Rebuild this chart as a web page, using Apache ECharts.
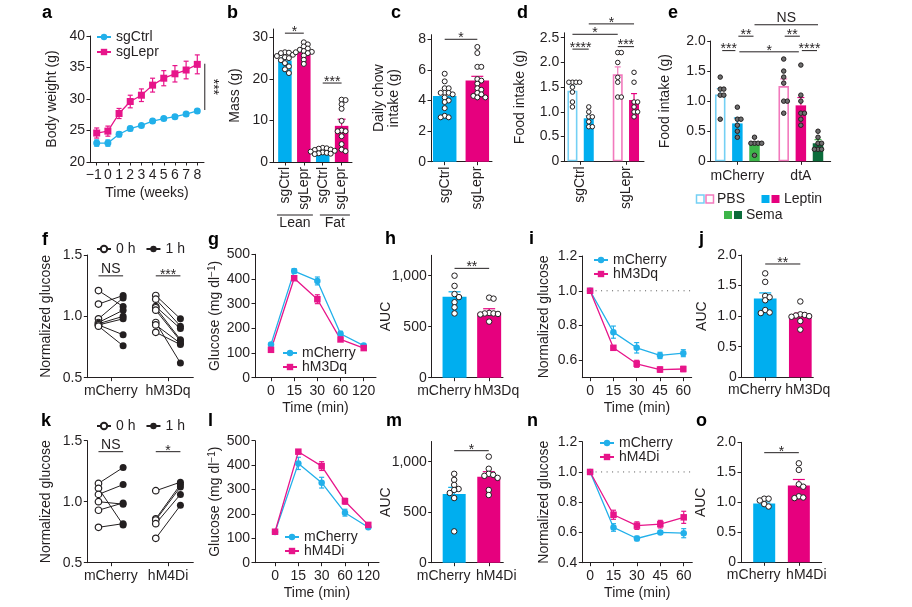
<!DOCTYPE html>
<html><head><meta charset="utf-8">
<script src="https://cdn.jsdelivr.net/npm/echarts@6/dist/echarts.min.js"></script>
<style>html,body{margin:0;padding:0;background:#fff}#c{width:912px;height:607px}</style>
</head><body><div id="c"></div>
<script>
// ================= DATA =================
// a
const weeks = [-1,0,1,2,3,4,5,6,7,8];
const aCtrl = [23.0,23.0,24.4,25.3,25.8,26.5,26.9,27.2,27.6,28.1];
const aCtrlSem = [0.5,0.5,0.4,0.35,0.25,0.3,0.3,0.3,0.3,0.3];
const aLepr = [24.6,24.9,27.7,29.6,30.6,32.2,33.3,34.0,34.6,35.5];
const aLeprSem = [0.8,0.8,0.8,1.0,1.0,1.1,1.2,1.3,1.4,1.5];
const aYTicks = [20,25,30,35,40];
// b
const bCats = ['sgCtrl','sgLepr','sgCtrl','sgLepr'];
const bGroups = ['Lean','Fat'];
const bMean = [24.4,26.8,2.6,8.7];
const bSem = [0.6,0.5,0.25,1.6];
const bLeanCtrl = [26.4,26.3,26.2,25.8,25.5,25.2,25.0,24.5,23.8,23.0,22.3,21.4];
const bLeanLepr = [28.8,28.3,27.8,27.3,27.0,26.7,26.5,26.4,26.2,25.6,24.6,23.6];
const bFatCtrl = [3.4,3.3,3.2,3.0,2.9,2.7,2.5,2.3,2.2,2.1,2.0,1.9];
const bFatLepr = [15.0,14.9,13.9,12.8,9.9,7.6,7.4,7.4,6.2,4.3,3.0,2.6];
const bYTicks = [0,10,20,30];
// c
const cCats = ['sgCtrl','sgLepr'];
const cMean = [4.3,5.3];
const cSem = [0.22,0.28];
const cCtrl = [5.75,5.25,4.8,4.8,4.5,4.5,4.5,4.4,4.2,4.0,3.9,3.5,3.0,2.9,2.9];
const cLepr = [7.5,7.1,6.2,6.2,5.4,5.3,5.1,4.8,4.7,4.5,4.4,4.3,4.2,4.2];
const cYTicks = [0,2,4,6,8];
// d
const dCats = ['sgCtrl','sgLepr'];
const dMeanPBS = [1.43,1.76];
const dSemPBS = [0.09,0.15];
const dMeanLep = [0.87,1.24];
const dSemLep = [0.05,0.13];
const dCtrlPBS = [1.6,1.6,1.6,1.6,1.5,1.4,1.2,1.1];
const dCtrlLep = [1.1,1.0,0.9,0.9,0.8,0.7,0.7];
const dLeprPBS = [2.2,2.2,2.0,1.7,1.6,1.3,1.3];
const dLeprLep = [1.8,1.6,1.2,1.2,1.1,1.0,1.0,0.9];
const dYTicks = [0,0.5,1.0,1.5,2.0,2.5];
// e
const eGroups = ['mCherry','dtA'];
const eMeanPBS = [1.11,1.25];
const eSemPBS = [0.1,0.12];
const eMeanLep = [0.63,0.93];
const eSemLep = [0.09,0.13];
const eMeanSema = [0.30,0.30];
const eSemSema = [0.02,0.06];
const ePBSm = [1.4,1.2,1.2,1.1,1.1,0.7];
const eLepm = [0.9,0.7,0.7,0.6,0.5,0.4];
const eSemam = [0.4,0.3,0.3,0.3,0.3,0.1];
const ePBSd = [1.7,1.5,1.4,1.3,1.0,1.0,0.8];
const eLepd = [1.6,1.1,1.0,0.8,0.8,0.7,0.6];
const eSemad = [0.5,0.4,0.3,0.3,0.2,0.2,0.2];
const eYTicks = [0,0.5,1.0,1.5,2.0];
// f
const fCats = ['mCherry','hM3Dq'];
const fMch0 = [1.21,1.10,0.98,0.95,0.94,0.93,0.93,0.92];
const fMch1 = [1.08,1.17,1.15,1.05,1.00,0.98,0.85,0.76];
const fHm0 = [1.17,1.14,1.08,1.07,1.05,0.95,0.93,0.87];
const fHm1 = [0.98,0.92,0.90,0.81,0.80,0.62,0.78,0.77];
const normTicks = [0.5,1.0,1.5];
// g
const gTimes = ['0','15','30','60','120'];
const gMch = [135,432,392,178,130];
const gMchSem = [5,10,16,10,5];
const gHm = [113,403,318,155,120];
const gHmSem = [8,6,18,6,4];
const gluTicks = [0,100,200,300,400,500];
// h
const hCats = ['mCherry','hM3Dq'];
const hMean = [794,631];
const hSem = [48,45];
const hMch = [1000,900,820,790,740,690,630];
const hHm = [785,775,635,630,630,625,620,550];
const aucTicks = [0,500,1000];
// i
const iTimes = [0,15,30,45,60];
const iMch = [1.0,0.762,0.672,0.628,0.641];
const iMchSem = [0,0.035,0.03,0.018,0.02];
const iHm = [1.0,0.672,0.58,0.547,0.55];
const iHmSem = [0,0.006,0.02,0.015,0.015];
const iYTicks = [0.6,0.8,1.0,1.2];
// j
const jCats = ['mCherry','hM3Dq'];
const jMean = [1.29,1.02];
const jSem = [0.09,0.03];
const jMch = [1.70,1.56,1.33,1.31,1.26,1.10,1.06,1.05];
const jHm = [1.24,1.03,1.02,1.01,1.00,0.99,0.92,0.78];
const auc2Ticks = [0,0.5,1.0,1.5,2.0];
// k
const kCats = ['mCherry','hM4Di'];
const kMch0 = [1.15,1.11,1.06,1.00,0.93,0.79];
const kMch1 = [1.28,0.81,1.14,0.98,0.99,0.82];
const kHm0 = [1.09,0.86,0.85,0.82,0.70];
const kHm1 = [1.16,1.14,1.12,1.06,0.97];
// l
const lTimes = ['0','15','30','60','120'];
const lMch = [126,407,328,205,145];
const lMchSem = [8,25,22,14,5];
const lHm = [127,455,396,252,155];
const lHmSem = [5,6,18,12,6];
// m
const mCats = ['mCherry','hM4Di'];
const mMean = [680,851];
const mSem = [66,50];
const mMch = [880,820,770,730,720,690,640,310];
const mHm = [1050,930,880,870,860,840,720,670];
// n
const nTimes = [0,15,30,45,60];
const nMch = [1.0,0.633,0.56,0.60,0.595];
const nMchSem = [0,0.025,0.015,0.008,0.03];
const nHm = [1.0,0.717,0.645,0.655,0.70];
const nHmSem = [0,0.03,0.025,0.025,0.04];
const nYTicks = [0.4,0.6,0.8,1.0,1.2];
// o
const oCats = ['mCherry','hM4Di'];
const oMean = [0.98,1.28];
const oSem = [0.025,0.10];
const oMch = [1.06,1.06,1.03,0.97,0.93];
const oHm = [1.65,1.54,1.30,1.26,1.10,1.08,1.07];

// ================= STYLE / HELPERS =================
const INK = '#231f20';
const FONT = '"Liberation Sans", Arial, Helvetica, sans-serif';
const FS = 14;
const BLUE = '#00aeef', MAG = '#e6007e', LBLUE = '#74d0f4', LPINK = '#f27abd';
const LINEB = '#22b0ea', LINEP = '#e7158a', GRN = '#3db549', DGRN = '#0b6b3a';

const grids = [], xAxes = [], yAxes = [], series = [], legends = [], graphics = [];
const fmt1 = v => v === 0 ? '0' : v.toFixed(1);
const fmtInt = v => String(Math.round(v));
const fmtK = v => v >= 1000 ? Math.floor(v/1000) + ',' + String(v % 1000).padStart(3,'0') : String(v);
const catFmt = arr => v => arr[Math.round(v)] || '';
// labels nudged apart (left label shifted left, right label shifted right) as in the figure
const pairFmt = arr => v => (Math.round(v) === 0 ? '{L|' : '{R|') + arr[Math.round(v)] + '}';
const pairRich = {L:{fontSize:FS, fontFamily:FONT, color:INK, padding:[0,21,0,0]},
                  R:{fontSize:FS, fontFamily:FONT, color:INK, padding:[0,0,0,15]}};

function xLabel(o, values, fmt) {
  return {show:true, customValues:values, formatter:fmt, color:INK, fontSize:FS, fontFamily:FONT,
    margin:o.xm == null ? 6 : o.xm, rotate:o.xr || 0, hideOverlap:false, showMinLabel:true, showMaxLabel:true, rich:o.xrich};
}
function addPanel(o) {
  const gi = grids.length;
  grids.push({left:o.l, top:o.t, width:o.w, height:o.h, containLabel:false, outerBoundsMode:'none'});
  const ls = {color:INK, width:1};
  const xi = xAxes.length;
  const splitLabels = !!o.xt2;
  xAxes.push({gridIndex:gi, type:'value', position:'bottom', min:o.x0, max:o.x1,
    axisLine:{show:true, onZero:false, lineStyle:ls},
    axisTick:{show:true, customValues:o.xt, length:3.5, lineStyle:ls},
    axisLabel:xLabel(o, splitLabels ? o.xt1 : o.xt, o.xf),
    splitLine:{show:false}, minorTick:{show:false},
    name:o.xn || '', nameLocation:'middle', nameGap:o.xg || 24, nameMoveOverlap:false,
    nameTextStyle:{color:INK, fontSize:FS, fontFamily:FONT}});
  if (splitLabels) {
    // second label layer on the same axis position, so that tightly packed labels are all drawn
    xAxes.push({gridIndex:gi, type:'value', position:'bottom', offset:0, min:o.x0, max:o.x1,
      axisLine:{show:false, onZero:false}, axisTick:{show:false},
      axisLabel:xLabel(o, o.xt2, o.xf), splitLine:{show:false}, minorTick:{show:false}});
  }
  yAxes.push({gridIndex:gi, type:'value', min:o.y0, max:o.y1,
    axisLine:{show:true, onZero:false, lineStyle:ls},
    axisTick:{show:true, customValues:o.yt, length:3.5, lineStyle:ls},
    axisLabel:{show:true, customValues:o.yt, formatter:o.yf, color:INK, fontSize:FS, fontFamily:FONT, margin:5,
      hideOverlap:false, showMinLabel:true, showMaxLabel:true},
    splitLine:{show:false}, minorTick:{show:false},
    name:o.yn || '', nameLocation:'middle', nameGap:o.yg || 30, nameMoveOverlap:false,
    nameTextStyle:{color:INK, fontSize:FS, fontFamily:FONT, lineHeight:15,
      rich:{sup:{fontSize:10, fontFamily:FONT, color:INK, padding:[0,0,7,0]}}}});
  return Object.assign({gi:gi, xi:xi, px:o.w/(o.x1-o.x0), py:o.h/(o.y1-o.y0)}, o);
}
function S(P, s) { s.xAxisIndex = P.xi; s.yAxisIndex = P.gi; s.animation = false; series.push(s); }

function barSeries(P, xs, ys, styles, bw) {
  S(P, {type:'bar', barWidth:bw, barGap:'-100%', z:2, silent:true,
    data: xs.map((x,i) => ({value:[x, ys[i]], itemStyle:styles[i]}))});
}
function errSeries(P, xs, means, sems, colors, cap, both, lw) {
  const pts = [];
  xs.forEach((x,i) => { if (sems[i] > 0) pts.push({x:x, m:means[i], s:sems[i], c:Array.isArray(colors)?colors[i]:colors}); });
  S(P, {type:'custom', z:3, silent:true, clip:false,
    data: pts.map(p => [p.x, p.m - (both ? p.s : 0), p.m + p.s]),
    renderItem: (params, api) => {
      const p = pts[params.dataIndex];
      const lo = api.coord([api.value(0), api.value(1)]), hi = api.coord([api.value(0), api.value(2)]);
      const st = {stroke:p.c, lineWidth:lw || 1.2};
      const h = cap/2;
      const ch = [{type:'line', shape:{x1:lo[0],y1:lo[1],x2:hi[0],y2:hi[1]}, style:st},
                  {type:'line', shape:{x1:hi[0]-h,y1:hi[1],x2:hi[0]+h,y2:hi[1]}, style:st}];
      if (both) ch.push({type:'line', shape:{x1:lo[0]-h,y1:lo[1],x2:lo[0]+h,y2:lo[1]}, style:st});
      return {type:'group', children:ch};
    }});
}
// deterministic beeswarm: spread points sideways only when they would overlap too much
function swarm(vals, xc, px, py, size) {
  const order = vals.map((v,i) => i).sort((a,b) => vals[b] - vals[a]);
  const placed = []; const step = size * 0.8 / px; const minD = size * 0.75;
  order.forEach(i => {
    const y = vals[i];
    for (let k = 0; k < 40; k++) {
      const n = Math.ceil(k/2) * (k % 2 ? 1 : -1);
      const x = xc + n * step;
      let ok = true;
      for (const p of placed) {
        const dx = (p[0]-x)*px, dy = (p[1]-y)*py;
        if (dx*dx + dy*dy < minD*minD) { ok = false; break; }
      }
      if (ok) { placed.push([x, y]); break; }
    }
  });
  return placed;
}
function dotSeries(P, xc, vals, opt) {
  opt = opt || {};
  const size = opt.size || 5;
  S(P, {type:'scatter', z:4, silent:true, symbol:'circle', symbolSize:size,
    data: swarm(vals, xc, P.px, P.py, size),
    itemStyle:{color:opt.fill || '#fff', borderColor:INK, borderWidth:1, opacity:1}});
}
function lineSeries(P, name, xs, ys, color, symbol, size) {
  S(P, {type:'line', name:name, z:5, silent:true, data: xs.map((x,i) => [x, ys[i]]),
    symbol:symbol, symbolSize:size, showSymbol:true, showAllSymbol:true,
    lineStyle:{color:color, width:1.3}, itemStyle:{color:color, borderWidth:0}});
}
function pairSeries(P, groups, off) {
  const seg = [], p0 = [], p1 = [];
  groups.forEach(g => {
    g.v0.forEach((a,i) => {
      seg.push([g.x - off, a], [g.x + off, g.v1[i]], ['-','-']);
      p0.push([g.x - off, a], ['-','-']);
      p1.push([g.x + off, g.v1[i]], ['-','-']);
    });
  });
  S(P, {type:'line', z:3, silent:true, data:seg, showSymbol:false, connectNulls:false, lineStyle:{color:INK, width:1}});
  S(P, {type:'line', name:'0 h', z:4, silent:true, data:p0, connectNulls:false, symbol:'circle', symbolSize:6.5,
    lineStyle:{color:INK, width:1.2}, itemStyle:{color:'#fff', borderColor:INK, borderWidth:1.2}});
  S(P, {type:'line', name:'1 h', z:5, silent:true, data:p1, connectNulls:false, symbol:'circle', symbolSize:7,
    lineStyle:{color:INK, width:1.2}, itemStyle:{color:INK, borderColor:INK, borderWidth:0}});
}
function sigSeries(P, items) {
  S(P, {type:'custom', z:6, silent:true, clip:false,
    data: items.map(it => [it.x1, it.y == null ? P.y0 : it.y]),
    renderItem: (params, api) => {
      const it = items[params.dataIndex];
      const ch = [];
      const ins = it.ins || 0;
      if (it.kind === 'v') {
        const a = api.coord([it.x1, it.y]), b = api.coord([it.x1, it.y2]);
        ch.push({type:'line', shape:{x1:a[0],y1:a[1],x2:b[0],y2:b[1]}, style:{stroke:INK, lineWidth:1}});
        ch.push({type:'text', x:a[0]+8, y:(a[1]+b[1])/2, rotation:-Math.PI/2,
          style:{text:it.t, align:'center', verticalAlign:'middle', fill:INK, font:'14px ' + FONT}});
      } else if (it.kind === 'grp') {
        const a = api.coord([it.x1, P.y0]), b = api.coord([it.x2, P.y0]);
        const y = a[1] + it.below;
        ch.push({type:'line', shape:{x1:a[0],y1:y,x2:b[0],y2:y}, style:{stroke:INK, lineWidth:1}});
        ch.push({type:'text', style:{text:it.t, x:(a[0]+b[0])/2, y:y+1.5, align:'center', verticalAlign:'top', fill:INK, font:FS + 'px ' + FONT}});
      } else if (it.kind === 'dot') {
        const a = api.coord([it.x1, it.y]), b = api.coord([it.x2, it.y]);
        ch.push({type:'line', shape:{x1:a[0],y1:a[1],x2:b[0],y2:b[1]}, style:{stroke:'#555', lineWidth:1, lineDash:[1,4.5]}});
      } else {
        const a = api.coord([it.x1, it.y]), b = api.coord([it.x2, it.y]);
        ch.push({type:'line', shape:{x1:a[0]+ins,y1:a[1],x2:b[0]-ins,y2:b[1]}, style:{stroke:INK, lineWidth:1}});
        const star = it.t.indexOf('*') >= 0;
        ch.push({type:'text', style:{text:it.t, x:(a[0]+b[0])/2, y:a[1] + (star ? 6 : 0), align:'center', verticalAlign:'bottom',
          fill:INK, font:(star ? 14 : FS) + 'px ' + FONT}});
      }
      return {type:'group', children:ch};
    }});
}
function addLegend(names, left, top, orient, gap) {
  legends.push({show:true, data:names, left:left, top:top, orient:orient, itemGap:gap, itemWidth:14, itemHeight:8,
    padding:0, selectedMode:false, textStyle:{color:INK, fontSize:FS, fontFamily:FONT}});
}
const openBar = c => ({color:'#fff', borderColor:c, borderWidth:1.6});

// ================= PANELS =================
// a
const Pa = addPanel({l:90, t:36, w:114, h:126, x0:-1.6, x1:8.6, xt:weeks,
  xt1:weeks.filter((w,i) => i % 2 === 0), xt2:weeks.filter((w,i) => i % 2 === 1),
  xf:v => v < 0 ? '{n|\u2212' + (-v) + '}' : String(v),
  xrich:{n:{fontSize:FS, fontFamily:FONT, color:INK, padding:[0,6,0,0]}},
  xm:6, y0:20, y1:40, yt:aYTicks, yf:fmtInt,
  yn:'Body weight (g)', yg:30, xn:'Time (weeks)', xg:24});
errSeries(Pa, weeks, aCtrl, aCtrlSem, LINEB, 5, true);
errSeries(Pa, weeks, aLepr, aLeprSem, LINEP, 5, true);
lineSeries(Pa, 'sgCtrl', weeks, aCtrl, LINEB, 'circle', 7);
lineSeries(Pa, 'sgLepr', weeks, aLepr, LINEP, 'rect', 7);
sigSeries(Pa, [{kind:'v', x1:8.67, y:28.25, y2:35.6, t:'***'}]);
addLegend(['sgCtrl','sgLepr'], 96, 30, 'vertical', 1);

// b
const Pb = addPanel({l:273, t:29, w:79, h:133, x0:-0.63, x1:3.55, xt:[0,1,2,3], xf:catFmt(bCats), xr:90, xm:5,
  y0:0, y1:32, yt:bYTicks, yf:fmtInt, yn:'Mass (g)', yg:30});
barSeries(Pb, [0,1,2,3], bMean, [{color:BLUE},{color:MAG},{color:BLUE},{color:MAG}], 13.5);
errSeries(Pb, [0,1,2,3], bMean, bSem, [BLUE,MAG,BLUE,MAG], 8, false);
dotSeries(Pb, 0, bLeanCtrl); dotSeries(Pb, 1, bLeanLepr); dotSeries(Pb, 2, bFatCtrl); dotSeries(Pb, 3, bFatLepr);
sigSeries(Pb, [{x1:0, x2:1, y:31, t:'*'}, {x1:2, x2:3, y:19, t:'***'},
  {kind:'grp', x1:-0.42, x2:1.48, below:53, t:bGroups[0]}, {kind:'grp', x1:1.85, x2:3.44, below:53, t:bGroups[1]}]);

// c
const Pc = addPanel({l:431, t:34.7, w:61, h:127, x0:-0.42, x1:1.45, xt:[0,1], xf:catFmt(cCats), xr:90, xm:5,
  y0:0, y1:8.3, yt:cYTicks, yf:fmtInt, yn:'Daily chow\nintake (g)', yg:29});
barSeries(Pc, [0,1], cMean, [{color:BLUE},{color:MAG}], 23.5);
errSeries(Pc, [0,1], cMean, cSem, [BLUE,MAG], 12, false);
dotSeries(Pc, 0, cCtrl); dotSeries(Pc, 1, cLepr);
sigSeries(Pc, [{x1:0, x2:1, y:8.0, t:'*'}]);

// d
const Pd = addPanel({l:564.3, t:32.8, w:79.7, h:128.5, x0:-0.36, x1:1.40, xt:[0,1], xf:catFmt(dCats), xr:90, xm:5,
  y0:0, y1:2.6, yt:dYTicks, yf:fmt1, yn:'Food intake (g)', yg:37});
const dX = [-0.18, 0.18, 0.82, 1.18];
barSeries(Pd, dX, [dMeanPBS[0], dMeanLep[0], dMeanPBS[1], dMeanLep[1]],
  [openBar(LBLUE), {color:BLUE}, openBar(LPINK), {color:MAG}], 10);
errSeries(Pd, dX, [dMeanPBS[0], dMeanLep[0], dMeanPBS[1], dMeanLep[1]], [dSemPBS[0], dSemLep[0], dSemPBS[1], dSemLep[1]],
  [LBLUE, BLUE, LPINK, MAG], 6, false);
dotSeries(Pd, dX[0], dCtrlPBS, {size:4.5}); dotSeries(Pd, dX[1], dCtrlLep, {size:4.5});
dotSeries(Pd, dX[2], dLeprPBS, {size:4.5}); dotSeries(Pd, dX[3], dLeprLep, {size:4.5});
sigSeries(Pd, [{x1:dX[0], x2:dX[1], y:2.27, t:'****'}, {x1:dX[2], x2:dX[3], y:2.32, t:'***'},
  {x1:dX[0], x2:dX[2], y:2.57, t:'*'}, {x1:dX[1], x2:dX[3], y:2.78, t:'*'}]);

// e
const Pe = addPanel({l:710.7, t:41, w:120, h:120.3, x0:-0.42, x1:1.47, xt:[0,1], xf:catFmt(eGroups), xm:8,
  y0:0, y1:2.0, yt:eYTicks, yf:fmt1, yn:'Food intake (g)', yg:38});
const eX = [-0.27, 0, 0.27, 0.73, 1, 1.27];
const eM = [eMeanPBS[0], eMeanLep[0], eMeanSema[0], eMeanPBS[1], eMeanLep[1], eMeanSema[1]];
const eS = [eSemPBS[0], eSemLep[0], eSemSema[0], eSemPBS[1], eSemLep[1], eSemSema[1]];
barSeries(Pe, eX, eM, [openBar(LBLUE), {color:BLUE}, {color:GRN}, openBar(LPINK), {color:MAG}, {color:DGRN}], 10.5);
errSeries(Pe, eX, eM, eS, [LBLUE, BLUE, GRN, LPINK, MAG, GRN], 7, false);
[ePBSm, eLepm, eSemam, ePBSd, eLepd, eSemad].forEach((v,i) => dotSeries(Pe, eX[i], v, {size:4.5, fill:'#6f6f6f'}));
sigSeries(Pe, [{x1:eX[2], x2:eX[5], y:2.27, t:'NS'},
  {x1:eX[1], x2:eX[2], y:2.08, t:'**', ins:1}, {x1:eX[3], x2:eX[4], y:2.08, t:'**', ins:1},
  {x1:eX[0], x2:eX[1], y:1.84, t:'***', ins:2}, {x1:eX[1], x2:eX[4], y:1.82, t:'*', ins:2},
  {x1:eX[4], x2:eX[5], y:1.84, t:'****', ins:1}]);
graphics.push(
  {type:'rect', shape:{x:696.5, y:195, width:7.5, height:8}, style:{fill:'#fff', stroke:LBLUE, lineWidth:1.5}},
  {type:'rect', shape:{x:706, y:195, width:7.5, height:8}, style:{fill:'#fff', stroke:LPINK, lineWidth:1.5}},
  {type:'text', x:717, y:199, style:{text:'PBS', fill:INK, font:FS + 'px ' + FONT, verticalAlign:'middle'}},
  {type:'rect', shape:{x:761.5, y:195, width:8, height:8}, style:{fill:BLUE}},
  {type:'rect', shape:{x:771.5, y:195, width:8, height:8}, style:{fill:MAG}},
  {type:'text', x:784, y:199, style:{text:'Leptin', fill:INK, font:FS + 'px ' + FONT, verticalAlign:'middle'}},
  {type:'rect', shape:{x:724, y:211, width:8, height:8}, style:{fill:GRN}},
  {type:'rect', shape:{x:734, y:211, width:8, height:8}, style:{fill:DGRN}},
  {type:'text', x:746, y:215, style:{text:'Sema', fill:INK, font:FS + 'px ' + FONT, verticalAlign:'middle'}}
);

// f
const Pf = addPanel({l:87.3, t:255, w:106, h:122.7, x0:-0.41, x1:1.44, xt:[0,1], xf:catFmt(fCats), xm:6,
  y0:0.5, y1:1.5, yt:normTicks, yf:fmt1, yn:'Normalized glucose', yg:34});
pairSeries(Pf, [{x:0, v0:fMch0, v1:fMch1}, {x:1, v0:fHm0, v1:fHm1}], 0.215);
sigSeries(Pf, [{x1:-0.215, x2:0.215, y:1.33, t:'NS'}, {x1:0.785, x2:1.215, y:1.33, t:'***'}]);
addLegend(['0 h','1 h'], 96, 242, 'horizontal', 10);

// g
const Pg = addPanel({l:255, t:254.3, w:121, h:123.4, x0:-0.69, x1:4.53, xt:[0,1,2,3,4], xf:catFmt(gTimes),
  y0:0, y1:500, yt:gluTicks, yf:fmtInt, yn:'Glucose (mg dl{sup|\u22121})', yg:32, xn:'Time (min)', xg:23});
const gX = [0,1,2,3,4];
errSeries(Pg, gX, gMch, gMchSem, LINEB, 5, true);
errSeries(Pg, gX, gHm, gHmSem, LINEP, 5, true);
lineSeries(Pg, 'mCherry', gX, gMch, LINEB, 'circle', 6.5);
lineSeries(Pg, 'hM3Dq', gX, gHm, LINEP, 'rect', 6.5);
addLegend(['mCherry','hM3Dq'], 282, 346, 'vertical', 0);

// h
const Ph = addPanel({l:431.7, t:255.3, w:71.3, h:122.4, x0:-0.66, x1:1.40, xt:[0,1], xt1:[0], xt2:[1],
  xf:pairFmt(hCats), xrich:pairRich, xm:6, y0:0, y1:1200, yt:aucTicks, yf:fmtK, yn:'AUC', yg:38});
barSeries(Ph, [0,1], hMean, [{color:BLUE},{color:MAG}], 24);
errSeries(Ph, [0,1], hMean, hSem, [BLUE,MAG], 12, false);
dotSeries(Ph, 0, hMch, {size:5.5}); dotSeries(Ph, 1, hHm, {size:5.5});
sigSeries(Ph, [{x1:0, x2:1, y:1072, t:'**'}]);

// i
const Pi = addPanel({l:582.3, t:256, w:109.4, h:121.7, x0:-5, x1:65.4, xt:iTimes, xf:v => String(v), xm:6,
  y0:0.5, y1:1.2, yt:iYTicks, yf:fmt1, yn:'Normalized glucose', yg:31, xn:'Time (min)', xg:23});
sigSeries(Pi, [{kind:'dot', x1:0, x2:65.4, y:1.0}]);
errSeries(Pi, iTimes, iMch, iMchSem, LINEB, 5, true);
errSeries(Pi, iTimes, iHm, iHmSem, LINEP, 5, true);
lineSeries(Pi, 'mCherry', iTimes, iMch, LINEB, 'circle', 6.5);
lineSeries(Pi, 'hM3Dq', iTimes, iHm, LINEP, 'rect', 6.5);
addLegend(['mCherry','hM3Dq'], 593, 253, 'vertical', 0);

// j
const Pj = addPanel({l:741.7, t:255, w:71.6, h:122.3, x0:-0.67, x1:1.37, xt:[0,1], xt1:[0], xt2:[1],
  xf:pairFmt(jCats), xrich:pairRich, xm:6, y0:0, y1:2, yt:auc2Ticks, yf:fmt1, yn:'AUC', yg:32});
barSeries(Pj, [0,1], jMean, [{color:BLUE},{color:MAG}], 22.7);
errSeries(Pj, [0,1], jMean, jSem, [BLUE,MAG], 12, false);
dotSeries(Pj, 0, jMch, {size:5.5}); dotSeries(Pj, 1, jHm, {size:5.5});
sigSeries(Pj, [{x1:0, x2:1, y:1.853, t:'**'}]);

// k
const Pk = addPanel({l:87.3, t:440.7, w:106, h:122, x0:-0.41, x1:1.44, xt:[0,1], xf:catFmt(kCats), xm:6,
  y0:0.5, y1:1.5, yt:normTicks, yf:fmt1, yn:'Normalized glucose', yg:34});
pairSeries(Pk, [{x:0, v0:kMch0, v1:kMch1}, {x:1, v0:kHm0, v1:kHm1}], 0.215);
sigSeries(Pk, [{x1:-0.215, x2:0.215, y:1.41, t:'NS'}, {x1:0.785, x2:1.215, y:1.41, t:'*'}]);
addLegend(['0 h','1 h'], 96, 419, 'horizontal', 10);

// l
const Pl = addPanel({l:255, t:440.7, w:124, h:122, x0:-0.86, x1:4.46, xt:[0,1,2,3,4], xf:catFmt(lTimes),
  y0:0, y1:500, yt:gluTicks, yf:fmtInt, yn:'Glucose (mg dl{sup|\u22121})', yg:32, xn:'Time (min)', xg:23});
errSeries(Pl, gX, lMch, lMchSem, LINEB, 5, true);
errSeries(Pl, gX, lHm, lHmSem, LINEP, 5, true);
lineSeries(Pl, 'mCherry', gX, lMch, LINEB, 'circle', 6.5);
lineSeries(Pl, 'hM4Di', gX, lHm, LINEP, 'rect', 6.5);
addLegend(['mCherry','hM4Di'], 284, 530, 'vertical', 0);

// m
const Pm = addPanel({l:431.7, t:441.5, w:71.6, h:121.2, x0:-0.65, x1:1.42, xt:[0,1], xt1:[0], xt2:[1],
  xf:pairFmt(mCats), xrich:pairRich, xm:6, y0:0, y1:1200, yt:aucTicks, yf:fmtK, yn:'AUC', yg:38});
barSeries(Pm, [0,1], mMean, [{color:BLUE},{color:MAG}], 23);
errSeries(Pm, [0,1], mMean, mSem, [BLUE,MAG], 12, false);
dotSeries(Pm, 0, mMch, {size:5.5}); dotSeries(Pm, 1, mHm, {size:5.5});
sigSeries(Pm, [{x1:0, x2:1, y:1109, t:'*'}]);

// n
const Pn = addPanel({l:582.3, t:441.7, w:110, h:121, x0:-5, x1:65.5, xt:nTimes, xf:v => String(v), xm:6,
  y0:0.4, y1:1.2, yt:nYTicks, yf:fmt1, yn:'Normalized glucose', yg:31, xn:'Time (min)', xg:23});
sigSeries(Pn, [{kind:'dot', x1:0, x2:65.5, y:1.0}]);
errSeries(Pn, nTimes, nMch, nMchSem, LINEB, 5, true);
errSeries(Pn, nTimes, nHm, nHmSem, LINEP, 5, true);
lineSeries(Pn, 'mCherry', nTimes, nMch, LINEB, 'circle', 6.5);
lineSeries(Pn, 'hM4Di', nTimes, nHm, LINEP, 'rect', 6.5);
addLegend(['mCherry','hM4Di'], 599, 436, 'vertical', 0);

// o
const Po = addPanel({l:741, t:442.3, w:80.7, h:120, x0:-0.67, x1:1.66, xt:[0,1], xt1:[0], xt2:[1],
  xf:pairFmt(oCats), xrich:pairRich, xm:6, y0:0, y1:2, yt:auc2Ticks, yf:fmt1, yn:'AUC', yg:32});
barSeries(Po, [0,1], oMean, [{color:BLUE},{color:MAG}], 22);
errSeries(Po, [0,1], oMean, oSem, [BLUE,MAG], 12, false);
dotSeries(Po, 0, oMch, {size:5.5}); dotSeries(Po, 1, oHm, {size:5.5});
sigSeries(Po, [{x1:0, x2:1, y:1.827, t:'*'}]);

// panel letters
[['a',42,19],['b',227,19],['c',391,19],['d',517,19],['e',668,19],
 ['f',42,246],['g',208,246],['h',385,245],['i',529,245],['j',699,245],
 ['k',41,427],['l',208,427],['m',386,427],['n',527,427],['o',696,427]].forEach(([t,x,y]) => {
  graphics.push({type:'text', x:x, y:y + 3, style:{text:t, fill:'#000', font:'bold 18px ' + FONT, verticalAlign:'bottom'}});
});

const chart = echarts.init(document.getElementById('c'), null, {renderer:'canvas'});
chart.setOption({
  animation:false,
  backgroundColor:'#fff',
  textStyle:{fontFamily:FONT, color:INK},
  grid:grids, xAxis:xAxes, yAxis:yAxes, series:series, legend:legends, graphic:graphics,
  tooltip:{show:false}
});
</script></body></html>
